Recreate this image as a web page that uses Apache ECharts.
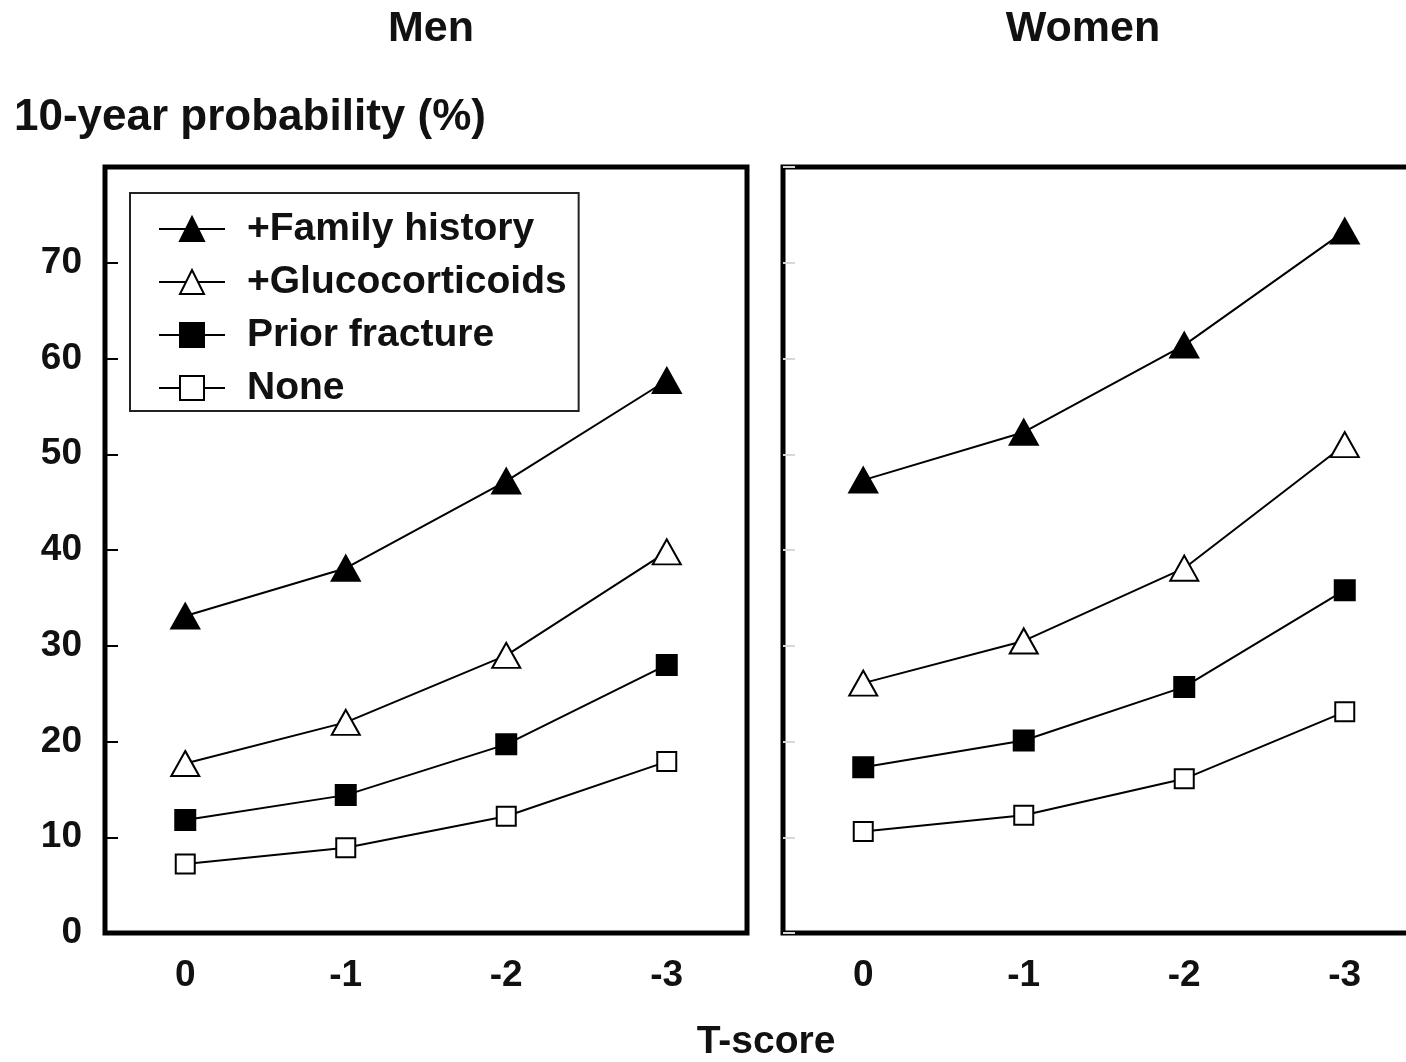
<!DOCTYPE html>
<html>
<head>
<meta charset="utf-8">
<title>10-year probability by T-score</title>
<script src="https://cdn.jsdelivr.net/npm/echarts@6/dist/echarts.min.js"></script>
<style>
  html, body { margin: 0; padding: 0; background: #fff; }
  #chart { width: 1406px; height: 1062px; }
</style>
</head>
<body>
<div id="chart"></div>
<script>
// T-score categories (x axis tick labels)
const tScores = ['0', '-1', '-2', '-3'];
// y axis range / ticks
const yMin = 0, yMax = 80, yStep = 10;

// Series names
const seriesNames = ['+Family history', '+Glucocorticoids', 'Prior fracture', 'None'];

// Men: 10-year probability (%)
const menFamily = [33.1, 38.1, 47.2, 57.7];
const menGluco  = [17.7, 22.0, 29.0, 39.8];
const menPrior  = [11.8, 14.4, 19.7, 28.0];
const menNone   = [7.2, 8.9, 12.2, 17.9];

// Women: 10-year probability (%)
const womenFamily = [47.3, 52.3, 61.4, 73.3];
const womenGluco  = [26.1, 30.5, 38.1, 51.0];
const womenPrior  = [17.3, 20.1, 25.7, 35.8];
const womenNone   = [10.6, 12.3, 16.1, 23.1];

const FONT = '"Liberation Sans", Arial, Helvetica, sans-serif';
const INK = '#111';

// marker appearance per series (filled / open triangles and squares)
const markerStyles = [
  { symbol: 'triangle', symbolSize: [28, 25], fill: '#000' },
  { symbol: 'triangle', symbolSize: [28, 25], fill: '#fff' },
  { symbol: 'rect', symbolSize: 20, fill: '#000' },
  { symbol: 'rect', symbolSize: 19, fill: '#fff' }
];

function makeSeries(values, idx, gridIdx) {
  const m = markerStyles[idx];
  return {
    name: seriesNames[idx],
    type: 'line',
    xAxisIndex: gridIdx,
    yAxisIndex: gridIdx,
    data: values,
    symbol: m.symbol,
    symbolSize: m.symbolSize,
    showSymbol: true,
    lineStyle: { color: '#000', width: 2 },
    itemStyle: { color: m.fill, borderColor: '#000', borderWidth: 2 },
    emphasis: { disabled: true },
    z: 3
  };
}

const chart = echarts.init(document.getElementById('chart'), null, { renderer: 'canvas' });

const panelWidth = 642, panelTop = 167, panelHeight = 766;

const option = {
  animation: false,
  backgroundColor: '#fff',
  grid: [
    { left: 105, top: panelTop, width: panelWidth, height: panelHeight, outerBoundsMode: 'none',
      show: true, borderColor: '#000', borderWidth: 5, backgroundColor: 'transparent' },
    // the women's panel runs past the right edge of the canvas
    { left: 783, top: panelTop, width: panelWidth, height: panelHeight, outerBoundsMode: 'none',
      show: true, borderColor: '#000', borderWidth: 5, backgroundColor: 'transparent' }
  ],
  xAxis: [0, 1].map(i => ({
    type: 'category',
    gridIndex: i,
    data: tScores,
    boundaryGap: true,
    axisLine: { show: false },
    axisTick: { show: false },
    splitLine: { show: false },
    axisLabel: { fontSize: 37, fontWeight: 'bold', fontFamily: FONT, color: INK, margin: 24 }
  })),
  yAxis: [
    {
      type: 'value', gridIndex: 0, min: yMin, max: yMax, interval: yStep,
      axisLine: { show: false },
      axisTick: { show: true, inside: true, length: 13, lineStyle: { color: '#000', width: 2 } },
      splitLine: { show: false },
      axisLabel: {
        fontSize: 37, fontWeight: 'bold', fontFamily: FONT, color: INK, margin: 23,
        formatter: v => (v === yMax ? '' : String(v))
      }
    },
    {
      type: 'value', gridIndex: 1, min: yMin, max: yMax, interval: yStep,
      axisLine: { show: false },
      axisTick: { show: true, inside: true, length: 12, lineStyle: { color: '#d8d8d8', width: 2 } },
      splitLine: { show: false },
      axisLabel: { show: false }
    }
  ],
  legend: {
    data: seriesNames,
    orient: 'vertical',
    left: 130,
    top: 193,
    padding: [16, 12, 3, 28],
    borderColor: '#222',
    borderWidth: 2,
    backgroundColor: '#fff',
    itemWidth: 66,
    itemHeight: 30,
    itemGap: 13,
    selectedMode: false,
    textStyle: {
      fontSize: 39, fontWeight: 'bold', fontFamily: FONT, color: INK,
      lineHeight: 40, padding: [0, 0, 0, 17]
    }
  },
  graphic: [
    { type: 'text', x: 431, y: 29,
      style: { text: 'Men', fontSize: 43, fontWeight: 'bold', fontFamily: FONT, fill: INK,
               align: 'center', verticalAlign: 'middle' } },
    { type: 'text', x: 1083, y: 29,
      style: { text: 'Women', fontSize: 43, fontWeight: 'bold', fontFamily: FONT, fill: INK,
               align: 'center', verticalAlign: 'middle' } },
    { type: 'text', x: 14, y: 118,
      style: { text: '10-year probability (%)', fontSize: 44, fontWeight: 'bold', fontFamily: FONT, fill: INK,
               align: 'left', verticalAlign: 'middle' } },
    { type: 'text', x: 766, y: 1042,
      style: { text: 'T-score', fontSize: 39, fontWeight: 'bold', fontFamily: FONT, fill: INK,
               align: 'center', verticalAlign: 'middle' } }
  ],
  series: [
    makeSeries(menFamily, 0, 0),
    makeSeries(menGluco, 1, 0),
    makeSeries(menPrior, 2, 0),
    makeSeries(menNone, 3, 0),
    makeSeries(womenFamily, 0, 1),
    makeSeries(womenGluco, 1, 1),
    makeSeries(womenPrior, 2, 1),
    makeSeries(womenNone, 3, 1)
  ]
};

chart.setOption(option);
</script>
</body>
</html>
